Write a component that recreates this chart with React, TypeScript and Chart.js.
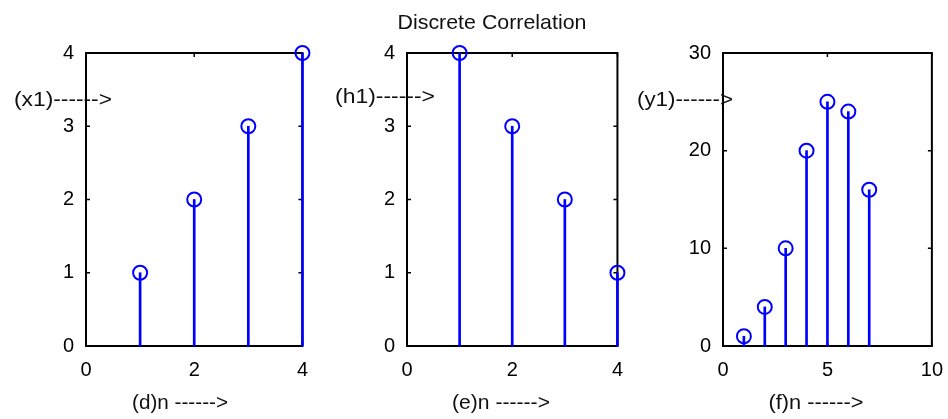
import React, { useEffect, useRef } from 'react';
import { Chart, registerables } from 'chart.js';
Chart.register(...registerables);

// ---- data ----
const nX = [1, 2, 3, 4];
const x1 = [1, 2, 3, 4];
const nH = [1, 2, 3, 4];
const h1 = [4, 3, 2, 1];
const nY = [1, 2, 3, 4, 5, 6, 7];
const y1 = [1, 4, 10, 20, 25, 24, 16];

const chartTitle = 'Discrete Correlation';
const xLabels = ['(d)n ------>', '(e)n ------>', '(f)n ------>'];
const yLabels = ['(x1)------>', '(h1)------>', '(y1)------>'];

const xMaxes = [4, 4, 10];
const xSteps = [2, 2, 5];
const yMaxes = [4, 4, 30];
const ySteps = [1, 1, 10];

// ---- layout (pixels) ----
const H = 419;
const AREA_TOP = 53;
const AREA_BOTTOM = 346;
const layouts = [
  { left: 0, w: 320, areaLeft: 86, areaRight: 303, yLab: { cx: 63, cy: 100, w: 98 }, xLab: { cx: 180, cy: 403, w: 96 } },
  { left: 320, w: 315, areaLeft: 87, areaRight: 302, yLab: { cx: 65, cy: 97, w: 100 }, xLab: { cx: 181, cy: 403, w: 98 } },
  { left: 635, w: 320, areaLeft: 88, areaRight: 305, yLab: { cx: 50, cy: 100, w: 96 }, xLab: { cx: 181, cy: 403, w: 95 } },
];

const BLUE = '#0000ff';
const TEXT_FONT = '"Liberation Sans", "DejaVu Sans", sans-serif';
const TICK_FONT = '"Liberation Sans Narrow", "Liberation Sans", sans-serif';

function drawFitted(ctx: CanvasRenderingContext2D, text: string, cx: number, cy: number, w: number, size: number) {
  ctx.save();
  ctx.font = `${size}px ${TEXT_FONT}`;
  const m = ctx.measureText(text).width;
  ctx.translate(cx, cy);
  ctx.scale(w / m, 1);
  ctx.textAlign = 'center';
  ctx.textBaseline = 'middle';
  ctx.fillStyle = '#111';
  ctx.fillText(text, 0, 0);
  ctx.restore();
}

function Panel({ idx }: { idx: number }) {
  const ref = useRef<HTMLCanvasElement>(null);
  const L = layouts[idx];
  useEffect(() => {
    const ns = [nX, nH, nY][idx];
    const vs = [x1, h1, y1][idx];
    const pts = ns.map((n, i) => ({ x: n, y: vs[i] }));

    const boxPlugin = {
      id: 'matlabBox' + idx,
      beforeDatasetsDraw(chart: any) {
        const { ctx, chartArea: a } = chart;
        ctx.save();
        ctx.strokeStyle = '#000';
        ctx.lineWidth = 2;
        ctx.strokeRect(a.left, a.top, a.right - a.left, a.bottom - a.top);
        ctx.lineWidth = 1.5;
        const xs = chart.scales.x;
        const ys = chart.scales.y;
        const tl = 4;
        ctx.beginPath();
        xs.ticks.forEach((t: any) => {
          const px = xs.getPixelForValue(t.value);
          ctx.moveTo(px, a.bottom);
          ctx.lineTo(px, a.bottom - tl);
          ctx.moveTo(px, a.top);
          ctx.lineTo(px, a.top + tl);
        });
        ys.ticks.forEach((t: any) => {
          const py = ys.getPixelForValue(t.value);
          ctx.moveTo(a.left, py);
          ctx.lineTo(a.left + tl, py);
          ctx.moveTo(a.right, py);
          ctx.lineTo(a.right - tl, py);
        });
        ctx.stroke();
        ctx.restore();
      },
      afterDraw(chart: any) {
        const ctx = chart.ctx;
        drawFitted(ctx, yLabels[idx], L.yLab.cx, L.yLab.cy, L.yLab.w, 21);
        drawFitted(ctx, xLabels[idx], L.xLab.cx, L.xLab.cy, L.xLab.w, 21);
        if (idx === 1) drawFitted(ctx, chartTitle, 172, 23, 189, 21);
      },
    };

    const chart = new Chart(ref.current as HTMLCanvasElement, {
      type: 'scatter',
      data: {
        datasets: [
          {
            type: 'bar',
            data: pts,
            backgroundColor: BLUE,
            borderWidth: 0,
            barThickness: 2,
            grouped: false,
            clip: false,
          } as any,
          {
            type: 'scatter',
            data: pts,
            pointStyle: 'circle',
            pointRadius: 7,
            pointBorderWidth: 2,
            pointBorderColor: BLUE,
            pointBackgroundColor: 'rgba(0,0,0,0)',
            showLine: false,
            clip: false,
          } as any,
        ],
      },
      options: {
        animation: false,
        responsive: false,
        devicePixelRatio: 1,
        events: [],
        layout: { padding: { left: 0, top: AREA_TOP, right: L.w - L.areaRight, bottom: 0 } },
        plugins: { legend: { display: false }, tooltip: { enabled: false }, title: { display: false } },
        scales: {
          x: {
            type: 'linear',
            min: 0,
            max: xMaxes[idx],
            offset: false,
            grid: { display: false, drawTicks: false },
            border: { display: false },
            ticks: { stepSize: xSteps[idx], padding: 12, color: '#000', font: { family: TICK_FONT, size: 20 }, maxRotation: 0 },
            afterFit: (s: any) => { s.height = H - AREA_BOTTOM; },
          },
          y: {
            type: 'linear',
            min: 0,
            max: yMaxes[idx],
            grid: { display: false, drawTicks: false },
            border: { display: false },
            ticks: { stepSize: ySteps[idx], padding: 12, color: '#000', font: { family: TICK_FONT, size: 20 } },
            afterFit: (s: any) => { s.width = L.areaLeft; },
          },
        },
      } as any,
      plugins: [boxPlugin],
    });
    return () => chart.destroy();
  }, []);
  return (
    <canvas
      ref={ref}
      width={L.w}
      height={H}
      style={{ position: 'absolute', left: L.left, top: 0, width: L.w, height: H }}
    />
  );
}

export default function App() {
  return (
    <div style={{ position: 'absolute', left: 0, top: 0, width: 948, height: H, overflow: 'hidden', background: '#fff' }}>
      <Panel idx={0} />
      <Panel idx={1} />
      <Panel idx={2} />
    </div>
  );
}
